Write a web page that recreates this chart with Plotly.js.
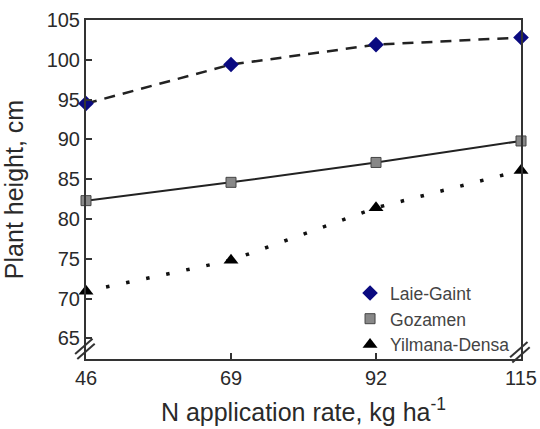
<!DOCTYPE html>
<html>
<head>
<script src="https://cdn.plot.ly/plotly-3.0.1.min.js"></script>
<style>html,body{margin:0;padding:0;background:#fff;}#chart{width:540px;height:429px;}</style>
</head>
<body>
<div id="chart"></div>
<script>
var nRates = [46, 69, 92, 115];
var laieGaint = [94.5, 99.4, 101.9, 102.8];
var gozamen = [82.3, 84.6, 87.1, 89.8];
var yilmanaDensa = [70.9, 74.8, 81.4, 86.1];
var yTicks = [65, 70, 75, 80, 85, 90, 95, 100, 105];
var seriesNames = ['Laie-Gaint', 'Gozamen', 'Yilmana-Densa'];

var mk = [
  {symbol: 'diamond', size: 12, color: '#0a0a80'},
  {symbol: 'square', size: 10, color: '#888', line: {color: '#444', width: 1}},
  {symbol: 'triangle-up', size: 13, color: '#000'}
];

var traces = [
  {x: nRates, y: laieGaint, name: seriesNames[0], mode: 'lines+markers', cliponaxis: false, showlegend: false,
   line: {color: '#222', width: 2.5, dash: '11px,8px'}, marker: mk[0]},
  {x: nRates, y: gozamen, name: seriesNames[1], mode: 'lines+markers', cliponaxis: false, showlegend: false,
   line: {color: '#222', width: 2}, marker: mk[1]},
  {x: nRates, y: yilmanaDensa, name: seriesNames[2], mode: 'lines+markers', cliponaxis: false, showlegend: false,
   line: {color: '#111', width: 3.5, dash: '3.5px,17px'}, marker: mk[2]}
];
// legend entries: markers only
for (var i = 0; i < 3; i++) {
  traces.push({x: [null], y: [null], name: seriesNames[i], mode: 'markers', marker: mk[i], showlegend: true});
}

var fam = 'Liberation Sans, Arial, sans-serif';
var axisFont = {family: fam, size: 20, color: '#2a2a2a'};
var layout = {
  width: 540, height: 429,
  margin: {l: 86, r: 19, t: 20, b: 70},
  paper_bgcolor: '#fff', plot_bgcolor: '#fff',
  showlegend: true,
  legend: {x: 0.607, y: -0.012, xanchor: 'left', yanchor: 'bottom', bgcolor: 'rgba(0,0,0,0)',
           font: {family: fam, size: 17.5, color: '#444'},
           itemwidth: 30, tracegroupgap: 0},
  xaxis: {range: [46, 115], tickvals: nRates, ticktext: nRates.map(String),
          ticks: 'inside', ticklen: 6, tickwidth: 2, tickcolor: '#333',
          showline: true, linecolor: '#333', linewidth: 2, mirror: true,
          showgrid: false, zeroline: false, tickfont: axisFont,
          title: {text: 'N application rate, kg ha<sup>-1</sup>', standoff: 15,
                  font: {family: fam, size: 25, color: '#2a2a2a'}}},
  yaxis: {range: [62.4, 105], tickvals: yTicks, ticktext: yTicks.map(String),
          ticks: 'inside', ticklen: 6, tickwidth: 2, tickcolor: '#333',
          showline: true, linecolor: '#333', linewidth: 2, mirror: true,
          showgrid: false, zeroline: false, tickfont: axisFont,
          title: {text: 'Plant height, cm', standoff: 18,
                  font: {family: fam, size: 25, color: '#2a2a2a'}}},
  shapes: [
    {type: 'line', xref: 'paper', yref: 'paper', x0: -0.025, y0: 0.015, x1: 0.015, y1: 0.06, line: {color: '#333', width: 2}},
    {type: 'line', xref: 'paper', yref: 'paper', x0: -0.02, y0: 0.0, x1: 0.02, y1: 0.045, line: {color: '#333', width: 2}},
    {type: 'line', xref: 'paper', yref: 'paper', x0: 0.975, y0: 0.005, x1: 1.015, y1: 0.05, line: {color: '#333', width: 2}},
    {type: 'line', xref: 'paper', yref: 'paper', x0: 0.98, y0: -0.01, x1: 1.02, y1: 0.035, line: {color: '#333', width: 2}}
  ]
};
Plotly.newPlot('chart', traces, layout, {displayModeBar: false, staticPlot: true});
</script>
</body>
</html>
